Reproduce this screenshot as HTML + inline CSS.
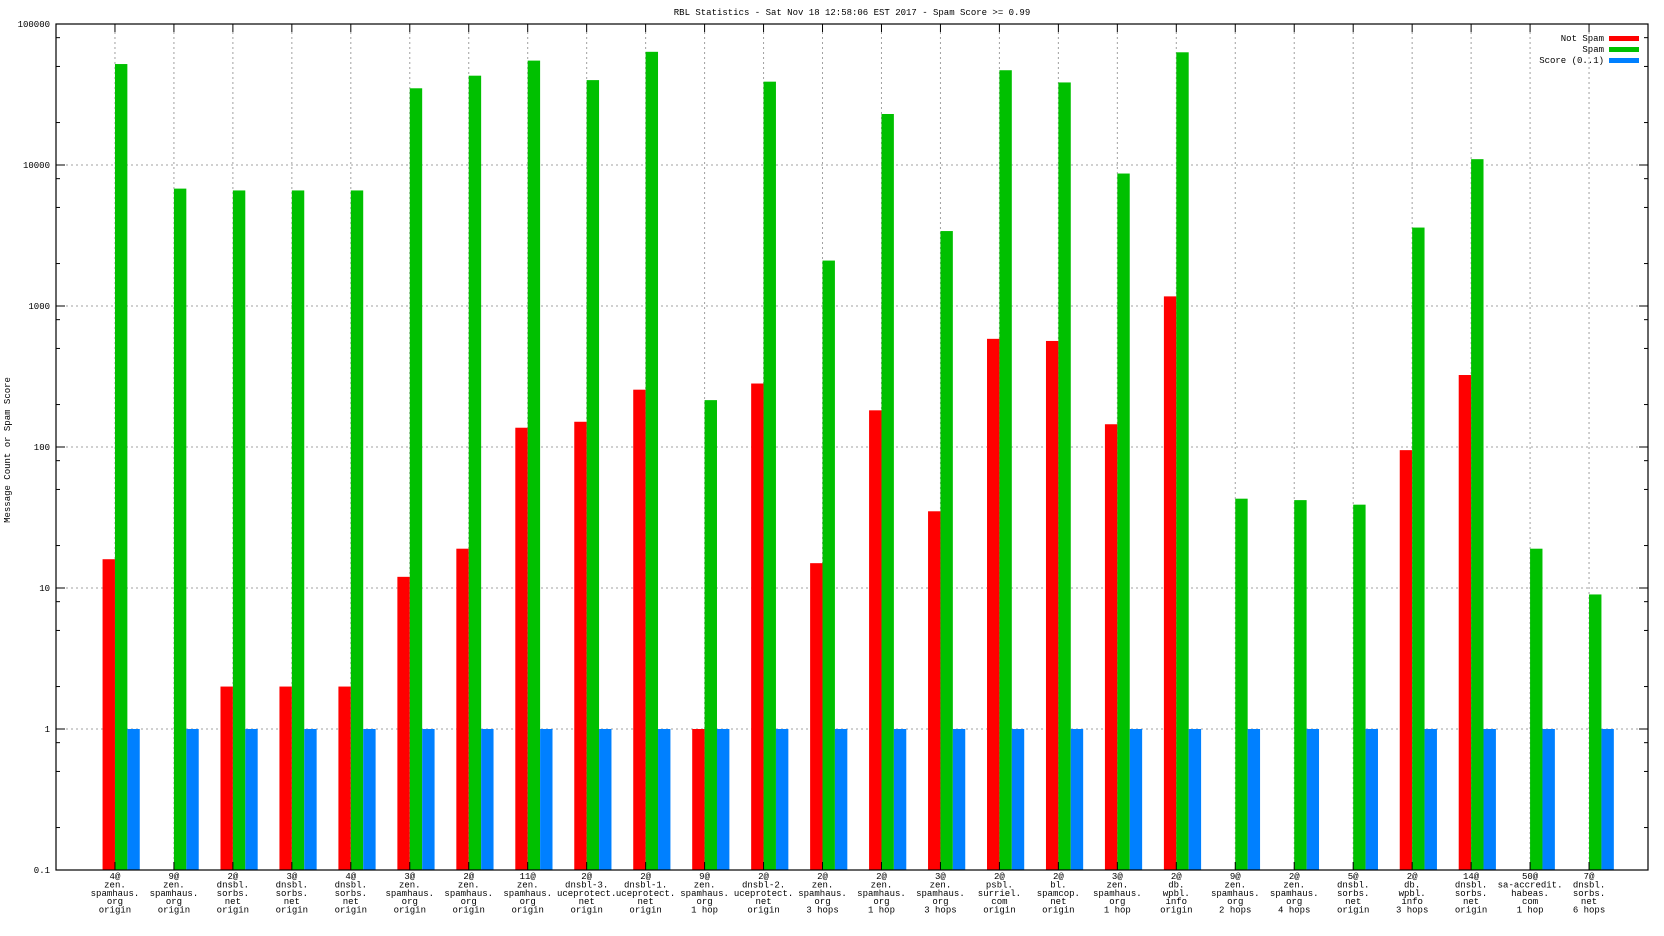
<!DOCTYPE html>
<html><head><meta charset="utf-8"><style>
body{margin:0;background:#fff}
svg{display:block;font-family:"Liberation Mono","DejaVu Sans Mono",monospace}
</style></head><body>
<svg id="chart" width="1664" height="936" viewBox="0 0 1664 936" xmlns="http://www.w3.org/2000/svg">
<rect width="1664" height="936" fill="#fff"/>
<text x="852" y="15" font-size="9" text-anchor="middle">RBL Statistics - Sat Nov 18 12:58:06 EST 2017 - Spam Score &gt;= 0.99</text>
<text transform="translate(10,450) rotate(-90)" font-size="9" text-anchor="middle">Message Count or Spam Score</text>
<g id="grid"></g><g id="bars"></g><g id="axes"></g><g id="labels"></g>
<g>
<text x="1604" y="41" font-size="9" text-anchor="end">Not Spam</text><rect x="1609" y="36" width="30" height="5" fill="#ff0000"/>
<text x="1604" y="52" font-size="9" text-anchor="end">Spam</text><rect x="1609" y="47" width="30" height="5" fill="#00c000"/>
<text x="1604" y="63" font-size="9" text-anchor="end">Score (0..1)</text><rect x="1609" y="58" width="30" height="5" fill="#0080ff"/>
</g>
</svg>
<script>
const categories=[
["4@","zen.","spamhaus.","org","origin"],["9@","zen.","spamhaus.","org","origin"],["2@","dnsbl.","sorbs.","net","origin"],["3@","dnsbl.","sorbs.","net","origin"],["4@","dnsbl.","sorbs.","net","origin"],["3@","zen.","spamhaus.","org","origin"],["2@","zen.","spamhaus.","org","origin"],["11@","zen.","spamhaus.","org","origin"],["2@","dnsbl-3.","uceprotect.","net","origin"],["2@","dnsbl-1.","uceprotect.","net","origin"],["9@","zen.","spamhaus.","org","1 hop"],["2@","dnsbl-2.","uceprotect.","net","origin"],["2@","zen.","spamhaus.","org","3 hops"],["2@","zen.","spamhaus.","org","1 hop"],["3@","zen.","spamhaus.","org","3 hops"],["2@","psbl.","surriel.","com","origin"],["2@","bl.","spamcop.","net","origin"],["3@","zen.","spamhaus.","org","1 hop"],["2@","db.","wpbl.","info","origin"],["9@","zen.","spamhaus.","org","2 hops"],["2@","zen.","spamhaus.","org","4 hops"],["5@","dnsbl.","sorbs.","net","origin"],["2@","db.","wpbl.","info","3 hops"],["14@","dnsbl.","sorbs.","net","origin"],["50@","sa-accredit.","habeas.","com","1 hop"],["7@","dnsbl.","sorbs.","net","6 hops"]];
const notSpam=[16,0,2,2,2,12,19,137,151,255,1,282,15,182,35,585,565,145,1170,0,0,0,95,324,0,0];
const spam=[52000,6800,6600,6600,6600,35000,43000,55000,40000,63500,215,39000,2100,23000,3400,47000,38500,8700,63000,43,42,39,3600,11000,19,9];
const score=[1,1,1,1,1,1,1,1,1,1,1,1,1,1,1,1,1,1,1,1,1,1,1,1,1,1];
const yTicks=["0.1","1","10","100","1000","10000","100000"];
const NS="http://www.w3.org/2000/svg";
const L=56,R=1648,T=24,B=870;
const step=(R-L)/(categories.length+1),bw=12.4;
function xs(i){return L+(i+1)*step;}
function ys(v){return B-(Math.log10(v)+1)*(B-T)/6;}
function mk(p,tag,a){const e=document.createElementNS(NS,tag);for(const k in a)e.setAttribute(k,a[k]);document.getElementById(p).appendChild(e);return e;}
// grid
yTicks.forEach((t,k)=>{const v=parseFloat(t),y=ys(v);
 if(k>0&&k<yTicks.length-1){const g=mk('grid','line',{x1:L,x2:R,y1:y,y2:y,stroke:'#a0a0a0','stroke-dasharray':'2,3'});
 }
 const tl=mk('axes','text',{x:L-6,y:y+3,'font-size':9,'text-anchor':'end'});tl.textContent=t;
 
 mk('axes','line',{x1:L,x2:L+9,y1:y,y2:y,stroke:'#000'});mk('axes','line',{x1:R-9,x2:R,y1:y,y2:y,stroke:'#000'});
 if(k<yTicks.length-1)[2,5,8].forEach(m=>{const yy=ys(v*m);mk('axes','line',{x1:L,x2:L+4,y1:yy,y2:yy,stroke:'#000'});mk('axes','line',{x1:R-4,x2:R,y1:yy,y2:yy,stroke:'#000'});});
});
categories.forEach((c,i)=>{const x=xs(i);
 const g=mk('grid','line',{x1:x,x2:x,y1:T+8,y2:B,stroke:'#a0a0a0','stroke-dasharray':'2,3'});
 
 mk('axes','line',{x1:x,x2:x,y1:T,y2:T+8,stroke:'#000'});mk('axes','line',{x1:x,x2:x,y1:B-8,y2:B,stroke:'#000'});
 const t=mk('labels','text',{x:x,'font-size':9,'text-anchor':'middle'});
 
 c.forEach((s,j)=>{const ts=document.createElementNS(NS,'tspan');ts.setAttribute('x',x);ts.setAttribute('y',B+9+j*8.4);ts.textContent=s;t.appendChild(ts);});
 [[notSpam,'#ff0000',-bw,'bar-not-spam'],[spam,'#00c000',0,'bar-spam'],[score,'#0080ff',bw,'bar-score']].forEach(([arr,col,off,nm])=>{
  const v=arr[i];if(!(v>0.1))return;const y=ys(v);
  const r=mk('bars','rect',{x:x+off,y:y,width:bw,height:B-y,fill:col});
  });
});
const bd=mk('axes','rect',{x:L,y:T,width:R-L,height:B-T,fill:'none',stroke:'#000','stroke-width':1.2});

</script>
</body></html>
